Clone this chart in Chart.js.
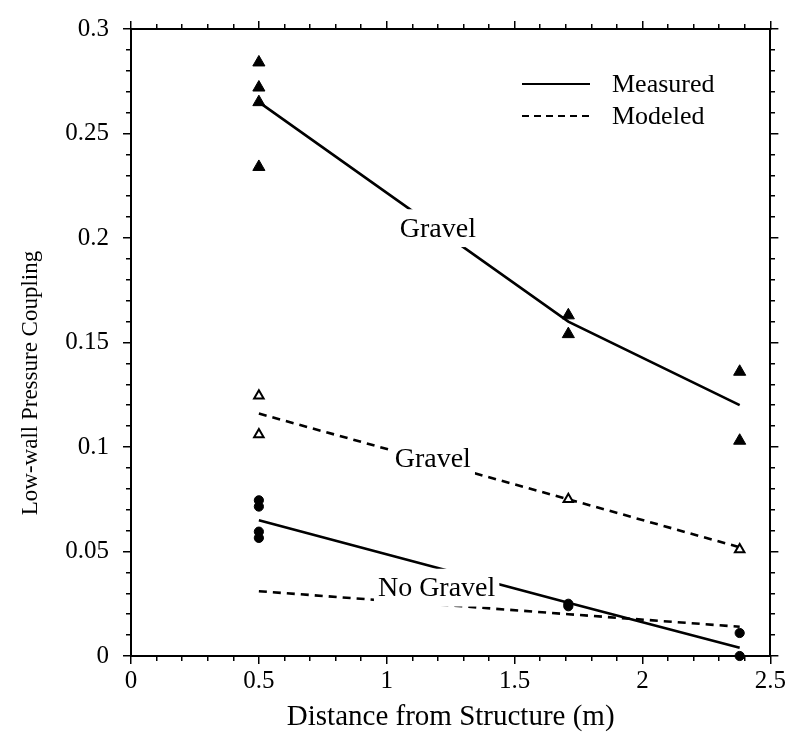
<!DOCTYPE html>
<html>
<head>
<meta charset="utf-8">
<script src="https://cdn.jsdelivr.net/npm/chart.js@4.4.1/dist/chart.umd.min.js"></script>
<style>
  html, body { margin: 0; padding: 0; background: #fff; }
  #wrap { width: 788px; height: 752px; }
</style>
</head>
<body>
<div id="wrap"><canvas id="c" width="788" height="752"></canvas></div>
<script>
// Distances from the structure (m) at which the fitted curves are evaluated
const distances = [0.5, 1.71, 2.38];

// Fitted curves: low-wall pressure coupling
const measuredGravel   = [0.265, 0.160, 0.120];
const modeledGravel    = [0.116, 0.075, 0.052];
const measuredNoGravel = [0.065, 0.0255, 0.004];
const modeledNoGravel  = [0.031, 0.020, 0.014];

// Individual observations
const gravelMeasX   = [0.5, 0.5, 0.5, 0.5, 1.71, 1.71, 2.38, 2.38];
const gravelMeasY   = [0.284, 0.272, 0.265, 0.234, 0.163, 0.154, 0.136, 0.103];
const gravelModX    = [0.5, 0.5, 1.71, 2.38];
const gravelModY    = [0.1245, 0.106, 0.075, 0.051];
const noGravelMeasX = [0.5, 0.5, 0.5, 0.5, 1.71, 1.71, 2.38, 2.38];
const noGravelMeasY = [0.0745, 0.0715, 0.0595, 0.0565, 0.025, 0.0238, 0.011, 0.0];

// Axis tick labels
const xMajor = [0, 0.5, 1, 1.5, 2, 2.5];
const xTickLabels = ['0', '0.5', '1', '1.5', '2', '2.5'];
const yMajor = [0, 0.05, 0.1, 0.15, 0.2, 0.25, 0.3];
const yTickLabels = ['0', '0.05', '0.1', '0.15', '0.2', '0.25', '0.3'];

// Legend entries and curve names
const legendNames = ['Measured', 'Modeled'];
const curveNames = ['Gravel', 'Gravel', 'No Gravel'];

const FONT = '"Liberation Serif", "Times New Roman", Times, serif';
const INK = '#000';

const pts = (xs, ys) => xs.map((x, i) => ({ x, y: ys[i] }));
const isMajor = (list, v) => list.some(m => Math.abs(m - v) < 1e-6);
const labelFor = (list, labels) => v => {
  const i = list.findIndex(m => Math.abs(m - v) < 1e-6);
  return i >= 0 ? labels[i] : '';
};
// minor ticks are drawn shorter by dashing the tick stroke
const minorDash = (list, dash) => ctx => (ctx.tick && !isMajor(list, ctx.tick.value)) ? dash : [];

function axisGrid(list, dash) {
  return {
    drawOnChartArea: false,
    drawTicks: true,
    tickLength: 8,
    color: INK,
    lineWidth: 1.5,
    tickWidth: 1.5,
    tickBorderDash: minorDash(list, dash)
  };
}
const axisBorder = { display: true, color: INK, width: 2 };

// Curve name labels on a white box that interrupts the curve
const notesPlugin = {
  id: 'curveNotes',
  afterDatasetsDraw(chart, args, opts) {
    const { ctx, scales } = chart;
    ctx.save();
    ctx.font = `${opts.size}px ${FONT}`;
    ctx.textAlign = 'center';
    ctx.textBaseline = 'middle';
    opts.items.forEach((it, i) => {
      const px = scales.x.getPixelForValue(it.x);
      const py = scales.y.getPixelForValue(it.y);
      const w = ctx.measureText(curveNames[i]).width + 8;
      const h = opts.size * 1.35;
      ctx.fillStyle = '#fff';
      ctx.fillRect(px - w / 2, py - h / 2, w, h);
      ctx.fillStyle = INK;
      ctx.fillText(curveNames[i], px, py + 1);
    });
    ctx.restore();
  }
};

// Line-style key in the upper right of the plot, and the vertical axis title
const keyPlugin = {
  id: 'lineKey',
  afterDraw(chart, args, opts) {
    const { ctx, chartArea } = chart;
    ctx.save();
    ctx.font = `${opts.size}px ${FONT}`;
    ctx.textBaseline = 'middle';
    ctx.textAlign = 'left';
    opts.rows.forEach((r, i) => {
      const y = chartArea.top + r.dy;
      const x0 = chartArea.left + opts.dx;
      ctx.strokeStyle = INK;
      ctx.lineWidth = 2.2;
      ctx.setLineDash(r.dash);
      ctx.beginPath();
      ctx.moveTo(x0, y);
      ctx.lineTo(x0 + opts.len, y);
      ctx.stroke();
      ctx.setLineDash([]);
      ctx.fillStyle = INK;
      ctx.fillText(legendNames[i], x0 + opts.len + opts.gap, y + 1);
    });
    // y axis title
    ctx.font = `${opts.titleSize}px ${FONT}`;
    ctx.textAlign = 'center';
    ctx.translate(opts.titleX, opts.titleY);
    ctx.rotate(-Math.PI / 2);
    ctx.fillText('Low-wall Pressure Coupling', 0, 0);
    ctx.restore();
  }
};

const lineStyle = (data, dash) => ({
  data: pts(distances, data),
  showLine: true,
  borderColor: INK,
  borderWidth: 2.6,
  borderDash: dash,
  pointRadius: 0,
  fill: false,
  tension: 0
});

new Chart(document.getElementById('c'), {
  type: 'scatter',
  data: {
    datasets: [
      { data: pts(gravelMeasX, gravelMeasY), pointStyle: 'triangle', pointRadius: 7,
        backgroundColor: INK, borderColor: INK, borderWidth: 1, clip: false },
      { data: pts(gravelModX, gravelModY), pointStyle: 'triangle', pointRadius: 5.5,
        backgroundColor: '#fff', borderColor: INK, borderWidth: 2, clip: false },
      { data: pts(noGravelMeasX, noGravelMeasY), pointStyle: 'circle', pointRadius: 4.6,
        backgroundColor: INK, borderColor: INK, borderWidth: 1, clip: false },
      lineStyle(measuredGravel, []),
      lineStyle(modeledGravel, [8, 6]),
      lineStyle(measuredNoGravel, []),
      lineStyle(modeledNoGravel, [8, 6])
    ]
  },
  options: {
    responsive: false,
    animation: false,
    devicePixelRatio: 1,
    layout: { padding: 0 },
    plugins: {
      legend: { display: false },
      tooltip: { enabled: false },
      curveNotes: {
        size: 28,
        items: [
          { x: 1.2, y: 0.2047 },
          { x: 1.18, y: 0.0943 },
          { x: 1.195, y: 0.0327 }
        ]
      },
      lineKey: {
        size: 26, dx: 391, len: 68, gap: 22,
        rows: [ { dy: 55, dash: [] }, { dy: 87, dash: [7, 5] } ],
        titleSize: 23, titleX: 31, titleY: 383
      }
    },
    scales: {
      x: {
        type: 'linear', position: 'bottom', min: 0, max: 2.5,
        afterFit: s => { s.height = 96; },
        ticks: { stepSize: 0.1, autoSkip: false, maxRotation: 0, padding: 2,
                 callback: labelFor(xMajor, xTickLabels),
                 font: { family: FONT, size: 25 }, color: INK },
        grid: axisGrid(xMajor, [4, 100]),
        border: axisBorder,
        title: { display: true, text: 'Distance from Structure (m)',
                 font: { family: FONT, size: 29 }, color: INK,
                 padding: { top: 0, bottom: 17 } }
      },
      xTop: {
        type: 'linear', position: 'top', min: 0, max: 2.5,
        afterFit: s => { s.height = 23; },
        ticks: { stepSize: 0.1, autoSkip: false, display: false },
        grid: axisGrid(xMajor, [0, 3, 4, 100]),
        border: axisBorder
      },
      y: {
        type: 'linear', position: 'left', min: 0, max: 0.3,
        afterFit: s => { s.width = 131; },
        ticks: { stepSize: 0.01, autoSkip: false, padding: 14,
                 callback: labelFor(yMajor, yTickLabels),
                 font: { family: FONT, size: 25 }, color: INK },
        grid: axisGrid(yMajor, [0, 3, 4, 100]),
        border: axisBorder
      },
      yRight: {
        type: 'linear', position: 'right', min: 0, max: 0.3,
        afterFit: s => { s.width = 17; },
        ticks: { stepSize: 0.01, autoSkip: false, display: false },
        grid: axisGrid(yMajor, [4, 100]),
        border: axisBorder
      }
    }
  },
  plugins: [notesPlugin, keyPlugin]
});
</script>
</body>
</html>
